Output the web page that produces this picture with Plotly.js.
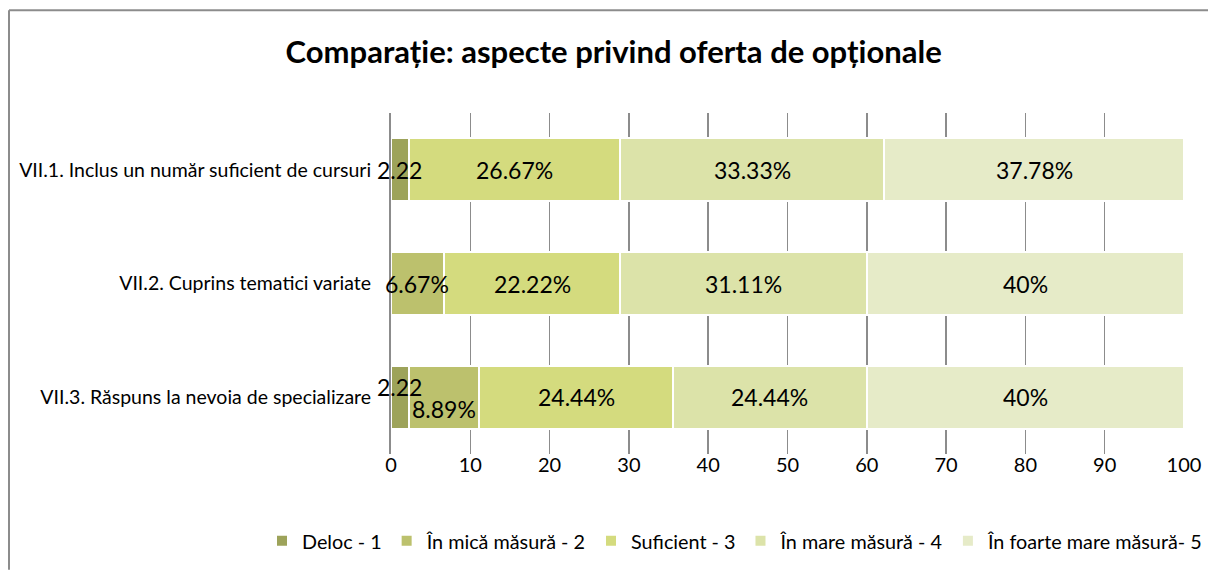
<!DOCTYPE html>
<html>
<head>
<meta charset="utf-8">
<script src="https://cdn.plot.ly/plotly-3.0.1.min.js"></script>
<style>html,body{margin:0;padding:0;background:#fff;}#chart{width:1208px;height:571px;}</style>
</head>
<body>
<div id="chart"></div>
<script>
const categories = [
  'VII.1. Inclus un număr suficient de cursuri',
  'VII.2. Cuprins tematici variate',
  'VII.3. Răspuns la nevoia de specializare'
];
const seriesNames = ['Deloc - 1', 'În mică măsură - 2', 'Suficient - 3', 'În mare măsură - 4', 'În foarte mare măsură- 5'];
const deloc     = [2.22, 0, 2.22];
const mica      = [0, 6.67, 8.89];
const suficient = [26.67, 22.22, 24.44];
const mare      = [33.33, 31.11, 24.44];
const foarte    = [37.78, 40, 40];
const xTicks = [0, 10, 20, 30, 40, 50, 60, 70, 80, 90, 100];

const colors = ['#9da35a', '#bcc16d', '#d4db7e', '#dce3a9', '#e6ebc8'];
const allSeries = [deloc, mica, suficient, mare, foarte];
const suffixes = ['', '%', '%', '%', '%'];
const yShifts = [[0, 0, 10], [0, 0, -12], [0, 0, 0], [0, 0, 0], [0, 0, 0]];

const FONT = 'Lato, "Open Sans", sans-serif';

const traces = allSeries.map((vals, i) => ({
  type: 'bar',
  orientation: 'h',
  name: seriesNames[i],
  y: categories,
  x: vals,
  marker: {color: colors[i], line: {color: '#ffffff', width: 2}},
  hoverinfo: 'x+name'
}));

const annotations = [];
categories.forEach((cat, r) => {
  let cum = 0;
  allSeries.forEach((vals, s) => {
    const v = vals[r];
    if (v > 0) {
      annotations.push({
        x: cum + v / 2, y: cat, xref: 'x', yref: 'y',
        text: String(v) + suffixes[s],
        showarrow: false, yshift: yShifts[s][r],
        font: {family: FONT, size: 23, color: '#000'}
      });
    }
    cum += v;
  });
});

const px = v => (v - 391) / 793;
const py = v => (455 - v) / 342;

const layout = {
  width: 1208, height: 571,
  paper_bgcolor: '#ffffff', plot_bgcolor: '#ffffff',
  barmode: 'stack',
  bargap: 0.445,
  margin: {l: 391, r: 24, t: 113, b: 116},
  title: {
    text: '<b>Comparație: aspecte privind oferta de opționale</b>',
    xref: 'container', x: 0.508, xanchor: 'center',
    yref: 'container', y: 1 - 52/571, yanchor: 'middle',
    font: {family: FONT, size: 31, color: '#000'}
  },
  xaxis: {
    range: [0, 100], tickvals: xTicks, ticktext: xTicks.map(String),
    showgrid: true, gridcolor: '#8c8c8c', gridwidth: 1.5,
    zeroline: false, showline: false, ticks: '', ticklabelstandoff: -3,
    tickfont: {family: FONT, size: 20, color: '#000'}
  },
  yaxis: {
    autorange: 'reversed', showgrid: false, zeroline: false,
    showline: true, linecolor: '#8c8c8c', linewidth: 2,
    ticks: '', ticklabelstandoff: 14,
    tickfont: {family: FONT, size: 19.5, color: '#000'}
  },
  showlegend: true,
  legend: {
    orientation: 'h', x: px(272), xanchor: 'left',
    y: py(541), yanchor: 'middle',
    font: {family: FONT, size: 19.8, color: '#000'},
    traceorder: 'normal', itemwidth: 30
  },
  annotations: annotations,
  shapes: [
    {type: 'line', xref: 'paper', yref: 'paper', x0: px(9), x1: px(1208), y0: py(10), y1: py(10),
     line: {color: '#8c8c8c', width: 2}, layer: 'below'},
    {type: 'line', xref: 'paper', yref: 'paper', x0: px(9), x1: px(9), y0: py(10), y1: py(571),
     line: {color: '#8c8c8c', width: 2}, layer: 'below'}
  ],
  hovermode: 'closest'
};

Plotly.newPlot('chart', traces, layout, {displayModeBar: false, staticPlot: true});
</script>
</body>
</html>
